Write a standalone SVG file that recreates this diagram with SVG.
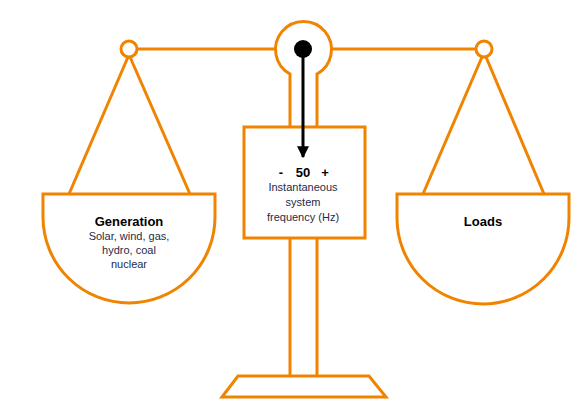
<svg xmlns="http://www.w3.org/2000/svg" width="586" height="420" viewBox="0 0 586 420">
<style>
.o{fill:none;stroke:#F08300;stroke-width:3;stroke-linejoin:miter}
.w{fill:#fff;stroke:#F08300;stroke-width:3}
.t{font-family:"Liberation Sans",Arial,sans-serif;text-anchor:middle}
.b{font-weight:bold;font-size:13px;fill:#000}
.s{font-size:11px;fill:#1f2b48}
</style>
<defs>
<marker id="ah" viewBox="0 0 10 10" refX="9" refY="5" markerWidth="4" markerHeight="4" orient="auto" markerUnits="strokeWidth">
<path d="M0,0 L10,5 L0,10 Z" fill="#000"/>
</marker>
</defs>
<g id="connectors">
<line class="o" x1="137" y1="49" x2="275" y2="49"/>
<line class="o" x1="331" y1="49" x2="476" y2="49"/>
<line class="o" x1="128" y1="57" x2="69" y2="194"/>
<line class="o" x1="130" y1="57" x2="190" y2="194"/>
<line class="o" x1="482" y1="57" x2="423" y2="194"/>
<line class="o" x1="486" y1="57" x2="544" y2="194"/>
</g>
<g id="stand">
<line class="o" x1="290" y1="238" x2="290" y2="376"/>
<line class="o" x1="317" y1="238" x2="317" y2="376"/>
<path class="o" d="M238,376 H369 L386,397 H222 Z"/>
</g>
<g id="pivot">
<path class="w" d="M290,127 V74 A28,28 0 1 1 317,74 V127"/>
</g>
<g id="frequency">
<rect class="w" x="244" y="127" width="121" height="111"/>
<text class="t b" x="281" y="177">-</text>
<text class="t b" x="303" y="177">50</text>
<text class="t b" x="325" y="177">+</text>
<text class="t s" x="303" y="191">Instantaneous</text>
<text class="t s" x="303" y="206">system</text>
<text class="t s" x="303" y="221">frequency (Hz)</text>
</g>
<g id="pointer">
<line x1="303" y1="49" x2="303" y2="157" stroke="#000" stroke-width="3" marker-end="url(#ah)"/>
<circle cx="303" cy="49" r="9" fill="#000"/>
</g>
<g id="left-hinge"><circle class="w" cx="129" cy="49" r="8"/></g>
<g id="right-hinge"><circle class="w" cx="484" cy="49" r="8"/></g>
<g id="generation">
<path class="w" d="M43,194 H215 V217 A86,86 0 0 1 43,217 Z"/>
<text class="t b" x="129" y="226">Generation</text>
<text class="t s" x="129" y="240">Solar, wind, gas,</text>
<text class="t s" x="129" y="254">hydro, coal</text>
<text class="t s" x="129" y="268">nuclear</text>
</g>
<g id="loads">
<path class="w" d="M397,194 H569 V218 A86,86 0 0 1 397,218 Z"/>
<text class="t b" x="483" y="226">Loads</text>
</g>
</svg>
